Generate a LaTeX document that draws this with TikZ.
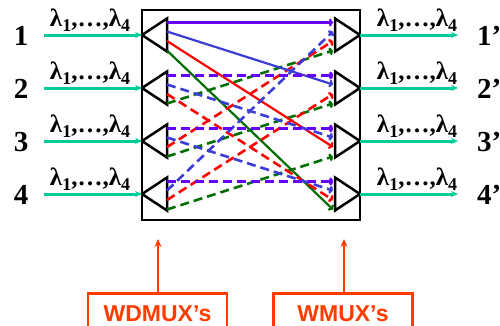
\documentclass[tikz,border=0pt]{standalone}
\usepackage{fontspec}
\setmainfont{Liberation Serif}
\newfontfamily\sansfam{Liberation Sans}
\usetikzlibrary{arrows.meta}
\definecolor{cpurple}{RGB}{102,0,255}
\definecolor{cblue}{RGB}{60,60,215}
\definecolor{cred}{RGB}{255,0,0}
\definecolor{cgreen}{RGB}{0,110,0}
\definecolor{cteal}{RGB}{0,204,153}
\definecolor{corange}{RGB}{255,60,0}
\newcommand\lsub[1]{\raisebox{-0.45ex}{\fontsize{18}{18}\selectfont #1}}
\newcommand\lamtext{λ\lsub{1},…,λ\lsub{4}}
\tikzset{
  frame/.style={draw=black,line width=2.8pt},
  tri/.style={draw=black,line width=2.5pt,line join=miter},
  fiber/.style={draw=cteal,line width=3pt,-{Stealth[length=7pt,width=6pt]}},
  lamlabel/.style={font=\fontsize{25}{25}\selectfont\bfseries,inner sep=0pt},
  portlabel/.style={font=\fontsize{29}{29}\selectfont\bfseries,inner sep=0pt},
  route/.style={line width=2.2pt,-{To[length=4pt,width=8pt]}},
  routedash/.style={route,line width=2.6pt,dash pattern=on 9pt off 5pt},
  callout/.style={draw=corange,line width=2.8pt,minimum width=139pt,minimum height=40pt,
    font=\sansfam\fontsize{23}{23}\selectfont\bfseries,text=corange,anchor=north,
    text depth=0pt,inner sep=0pt},
  calloutarrow/.style={draw=corange,line width=2.6pt,-{Stealth[length=8pt,width=7pt]}}
}
\begin{document}
\begin{tikzpicture}[x=1pt,y=-1pt]
\useasboundingbox (0,0) rectangle (500,325);
\draw[frame] (142,10) rectangle (360,220);
% rows
\foreach \i/\y in {1/35,2/88,3/141,4/194}{
  \coordinate (dm\i) at (142,\y);
  \coordinate (mx\i) at (360,\y);
  \coordinate (in\i) at (44,\y);
  \coordinate (out\i) at (458,\y);
  \draw[tri] (dm\i) -- (167,\y-16.5) -- (167,\y+16.5) -- cycle;
  \draw[tri] (mx\i) -- (335,\y-16.5) -- (335,\y+16.5) -- cycle;
  \foreach \j/\o in {1/-12.5,2/-3.5,3/6,4/15.5}{
    \coordinate (L\i-\j) at (167,\y+\o);
    \coordinate (R\i-\j) at (333,\y+\o);
  }
  \draw[fiber] (in\i) -- (dm\i);
  \draw[fiber] (mx\i) -- (out\i);
  \node[portlabel] (n\i) at (21,\y+1) {\i};
  \node[portlabel,anchor=west] (m\i) at (477,\y+1) {\i’};
  \node[lamlabel] (lin\i) at (90,\y-15) {\lamtext};
  \node[lamlabel] (lout\i) at (417,\y-15) {\lamtext};
}
% routing
\foreach \j/\c in {4/cgreen,3/cred,2/cblue,1/cpurple}{
  \foreach \i in {1,2,3,4}{
    \pgfmathtruncatemacro\o{mod(\i+\j-2,4)+1}
    \ifnum\i=1
      \draw[route,draw=\c,color=\c] (L\i-\j) -- (R\o-\j);
    \else
      \ifnum\j=1
        \draw[routedash,draw=\c,color=\c,line width=3.4pt] (L\i-\j) -- (R\o-\j);
      \else
        \draw[routedash,draw=\c,color=\c] (L\i-\j) -- (R\o-\j);
      \fi
    \fi
  }
}
% callouts
\node[callout] (wd) at (157.5,292) {WDMUX’s};
\node[callout] (wm) at (343,292) {WMUX’s};
\coordinate (wdtip) at (158,239);
\coordinate (wmtip) at (344,239);
\draw[calloutarrow] (wd.north -| wdtip) -- (wdtip);
\draw[calloutarrow] (wm.north -| wmtip) -- (wmtip);
\end{tikzpicture}
\end{document}
